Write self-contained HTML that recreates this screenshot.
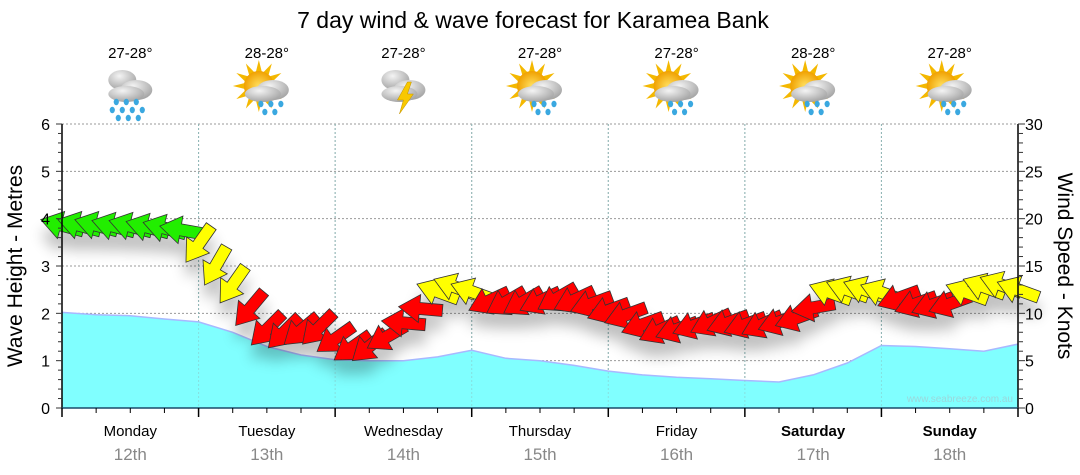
<!DOCTYPE html>
<html><head><meta charset="utf-8"><style>
body{margin:0;background:#fff;width:1080px;height:475px;overflow:hidden;font-family:"Liberation Sans",sans-serif}
svg{display:block}
</style></head><body>
<svg id="chart" width="1080" height="475" xmlns="http://www.w3.org/2000/svg" font-family="Liberation Sans, sans-serif">
<defs>
<filter id="shadow" x="-20%" y="-20%" width="140%" height="180%"><feGaussianBlur in="SourceAlpha" stdDeviation="7"/><feOffset dx="0" dy="14"/><feComponentTransfer><feFuncA type="linear" slope="0.25"/></feComponentTransfer><feMerge><feMergeNode/><feMergeNode in="SourceGraphic"/></feMerge></filter>
<radialGradient id="cloudG" cx="0.4" cy="0.3" r="0.8"><stop offset="0" stop-color="#f4f4f4"/><stop offset="1" stop-color="#9a9a9a"/></radialGradient>
<radialGradient id="sunG" cx="0.5" cy="0.5" r="0.5"><stop offset="0" stop-color="#ffe060"/><stop offset="1" stop-color="#f0a000"/></radialGradient>
</defs>
<text x="533" y="28" font-size="23" text-anchor="middle" fill="#000">7 day wind &amp; wave forecast for Karamea Bank</text>
<g id="icons"></g>
<g id="grid"></g>
<g id="wave"></g>
<g id="arrows" filter="url(#shadow)"></g>
<g id="axes"></g>
<text x="1013" y="402" font-size="10" text-anchor="end" fill="#9ad8dc">www.seabreeze.com.au</text>
<text transform="translate(22,266) rotate(-90)" font-size="21" text-anchor="middle" fill="#000">Wave Height - Metres</text>
<text transform="translate(1058,266) rotate(90)" font-size="21" text-anchor="middle" fill="#000">Wind Speed - Knots</text>
</svg>
<script>
const days = ["Monday","Tuesday","Wednesday","Thursday","Friday","Saturday","Sunday"];
const dates = ["12th","13th","14th","15th","16th","17th","18th"];
const temps = ["27-28°","28-28°","27-28°","27-28°","27-28°","28-28°","27-28°"];
const icons = ["rain","sunrain","storm","sunrain","sunrain","suncloud","sunrain"];
const waveHeights = [2.02,1.97,1.95,1.88,1.82,1.6,1.3,1.12,1.02,1.0,1.0,1.08,1.22,1.05,1.0,0.9,0.78,0.7,0.65,0.62,0.58,0.55,0.7,0.95,1.32,1.3,1.25,1.2,1.35];
const windSpeeds = [19.3,19.3,19.3,19.2,19.2,19.1,19,18.8,17.3,15,13,10.5,8.3,8,8.2,8.4,7.3,6.4,6.5,7.5,9,10.5,12.3,12.8,12.3,11.3,11.2,11.2,11.3,11.6,11.4,11,10.3,9.8,8.8,8.2,8.3,8.7,9,9,8.8,8.8,9.1,9.5,10.6,12.2,12.5,12.5,12.2,11.6,11,10.9,11,12.2,12.8,13,12.5];
const windDirs = [195,195,195,195,195,195,195,190,125,120,125,130,135,135,140,135,145,145,140,150,185,185,200,200,200,155,150,150,155,150,155,160,160,160,160,155,160,160,155,160,160,155,160,160,170,200,200,200,200,160,160,160,160,200,200,200,200];
const waveTicks = [0,1,2,3,4,5,6];
const windTicks = [0,5,10,15,20,25,30];

const NS="http://www.w3.org/2000/svg";
const X0=62, X1=1018, Y0=408, Y1=124, DAYW=(X1-X0)/7;
const xDay = d => X0 + d*DAYW;
const yWave = m => Y0 - m/6*(Y0-Y1);
const yWind = k => Y0 - k/30*(Y0-Y1);
function mk(tag, attrs, parent){const e=document.createElementNS(NS,tag);for(const k in attrs)e.setAttribute(k,attrs[k]);parent.appendChild(e);return e;}
const grid=document.getElementById('grid'), axes=document.getElementById('axes'), wave=document.getElementById('wave'), arrows=document.getElementById('arrows'), iconG=document.getElementById('icons');

waveTicks.forEach(v=>{ if(v>0){const l=mk('line',{x1:X0,x2:X1,y1:yWave(v),y2:yWave(v),stroke:'#999','stroke-dasharray':'2,2','stroke-width':1},grid);

}});
for(let d=1;d<7;d++){const l=mk('line',{x1:xDay(d),x2:xDay(d),y1:Y1,y2:Y0,stroke:'#999','stroke-dasharray':'2,2'},grid);

}

let pts=[];
const wn=waveHeights.length-1;
waveHeights.forEach((m,i)=>pts.push([xDay(i*7/wn), yWave(m)]));
let dStr='M'+X0+','+Y0+' '+pts.map(p=>'L'+p[0].toFixed(1)+','+p[1].toFixed(1)).join(' ')+' L'+X1+','+Y0+' Z';
const area=mk('path',{d:dStr,fill:'#80ffff'},wave);


const wl=mk('path',{d:'M'+pts.map(p=>p[0].toFixed(1)+','+p[1].toFixed(1)).join(' L'),fill:'none',stroke:'#a8b8ff','stroke-width':1.5},wave);


for(let d=1;d<7;d++){const l=mk('line',{x1:xDay(d),x2:xDay(d),y1:Y1,y2:Y0,stroke:'#8cc','stroke-dasharray':'2,2','stroke-opacity':0.6},wave);

}

const an=windSpeeds.length-1;
windSpeeds.forEach((k,i)=>{
  const x=xDay(i*7/an), y=yWind(k);
  const col = k>=18?'#22ee00':(k>=12?'#ffff00':'#ff0000');
  const a=mk('polygon',{points:'-22,-6 1,-6 1,-14 22,0 1,14 1,6 -22,6',fill:col,stroke:'#333','stroke-width':0.8,transform:`translate(${x.toFixed(1)},${y.toFixed(1)}) rotate(${windDirs[i]})`},arrows);
  
  
});

const la=mk('line',{x1:X0,x2:X0,y1:Y1,y2:Y0,stroke:'#000','stroke-width':1.5},axes);


const ra=mk('line',{x1:X1,x2:X1,y1:Y1,y2:Y0,stroke:'#000','stroke-width':1.5},axes);


const ba=mk('line',{x1:X0,x2:X1,y1:Y0,y2:Y0,stroke:'#1a4a6a','stroke-width':1.5},axes);


for(let i=0;i<=30;i++){const y=Y0-i/30*(Y0-Y1);
  const t=mk('line',{x1:X0-(i%5==0?6:4),x2:X0,y1:y,y2:y,stroke:'#333'},axes);
  
  
  const t2=mk('line',{x1:X1,x2:X1+(i%5==0?7:5),y1:y,y2:y,stroke:'#333'},axes);
  
  }
waveTicks.forEach(v=>{const t=mk('text',{x:50,y:yWave(v)+6,'font-size':16,'text-anchor':'end'},axes);t.textContent=v;

});
windTicks.forEach(v=>{const t=mk('text',{x:1025,y:yWind(v)+6,'font-size':16},axes);t.textContent=v;

});
for(let q=0;q<=28;q++){const x=X0+q*DAYW/4;
  const t=mk('line',{x1:x,x2:x,y1:Y0,y2:Y0+(q%4==0?9:5),stroke:'#000','stroke-width':q%4==0?1.5:1},axes);
  
  }
days.forEach((d,i)=>{const cx=xDay(i+0.5);
  const t=mk('text',{x:cx,y:436,'font-size':15,'text-anchor':'middle','font-weight':i>=5?'bold':'normal'},axes);t.textContent=d;
  
  
  const t2=mk('text',{x:cx,y:460,'font-size':17,'text-anchor':'middle',fill:'#888'},axes);t2.textContent=dates[i];
  
  
  const t3=mk('text',{x:cx,y:58,'font-size':15,'text-anchor':'middle'},iconG);t3.textContent=temps[i];
  
  
  const g=mk('g',{transform:`translate(${cx},92)`},iconG);
  
  
  const type=icons[i];
  if(type!=='rain'&&type!=='storm'){
    for(let r=0;r<12;r++){const an2=r*30;mk('polygon',{points:'-3,-14 0,-26 3,-14',fill:'#f4b800',transform:`translate(-8,-6) rotate(${an2})`},g);}
    mk('circle',{cx:-8,cy:-6,r:15,fill:'url(#sunG)'},g);
  }
  if(type==='rain'||type==='storm'){
    mk('ellipse',{cx:-8,cy:-12,rx:14,ry:10,fill:'url(#cloudG)'},g);
  }
  mk('ellipse',{cx:6,cy:-2,rx:16,ry:10,fill:'url(#cloudG)'},g);
  mk('ellipse',{cx:-4,cy:2,rx:18,ry:8,fill:'url(#cloudG)'},g);
  if(type==='storm'){mk('polygon',{points:'4,-10 -6,8 0,8 -4,22 10,2 4,2 8,-10',fill:'#f8c800',stroke:'#c09000','stroke-width':0.5},g);}
  else{
    const drops=type==='rain'?[[-14,10],[-4,10],[6,10],[-18,18],[-8,18],[2,18],[12,18],[-12,26],[-2,26],[8,26]]:[[-6,12],[4,12],[14,12],[-2,20],[8,20]];
    drops.forEach(p=>mk('ellipse',{cx:p[0],cy:p[1],rx:2.6,ry:3.2,fill:'#3aa8e0'},g));
  }
});
</script>
</body></html>
